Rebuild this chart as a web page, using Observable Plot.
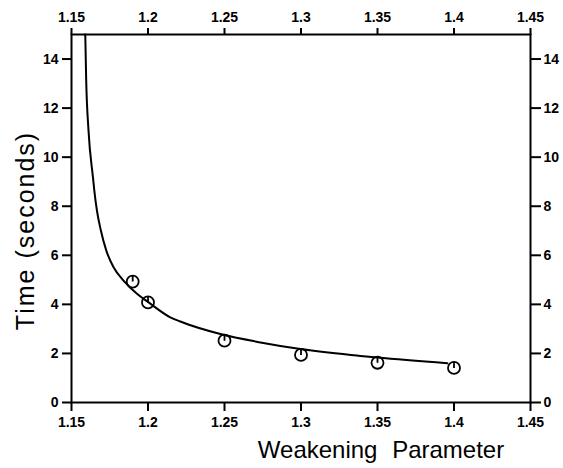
<!DOCTYPE html>
<html>
<head>
<meta charset="utf-8">
<script src="https://cdn.jsdelivr.net/npm/d3@7"></script>
<script src="https://cdn.jsdelivr.net/npm/@observablehq/plot@0.6"></script>
<style>
  html, body { margin: 0; padding: 0; background: white; }
</style>
</head>
<body>
<div id="chart"></div>
<script>
// Measured data points (weakening parameter vs time in seconds)
const pointX = [1.19, 1.2, 1.25, 1.3, 1.35, 1.4];
const pointY = [4.93, 4.08, 2.52, 1.94, 1.62, 1.41];

// Fitted curve
const curveX = [1.159, 1.1596, 1.1611, 1.164, 1.1649, 1.1666, 1.1692, 1.1727, 1.1775, 1.184, 1.1928, 1.2004, 1.2146, 1.2211, 1.2473, 1.2735, 1.2997, 1.3389, 1.35, 1.3957];
const curveY = [15, 13.15, 11.1, 9.19, 8.65, 7.83, 7.01, 6.2, 5.51, 4.97, 4.43, 4.08, 3.47, 3.30, 2.79, 2.45, 2.18, 1.90, 1.83, 1.60];

const xTicks = [1.15, 1.2, 1.25, 1.3, 1.35, 1.4, 1.45];
const yTicks = [0, 2, 4, 6, 8, 10, 12, 14];
const xTitle = "Weakening Parameter";
const yTitle = "Time (seconds)";

const points = pointX.map((x, i) => ({x, y: pointY[i]}));
const curve = curveX.map((x, i) => ({x, y: curveY[i]}));

const fmt = d => String(+d.toFixed(2));

// circle with a short stroke inside (as in the scanned figure)
const clockSymbol = {
  draw(context, size) {
    const r = Math.sqrt(size / Math.PI);
    context.moveTo(r, 0);
    context.arc(0, 0, r, 0, 2 * Math.PI);
    context.moveTo(0, -r);
    context.lineTo(0, 0);
  }
};

const axisCommon = {tickFormat: fmt, label: null, strokeWidth: 2};

const chart = Plot.plot({
  width: 563,
  height: 468,
  marginLeft: 71,
  marginRight: 33,
  marginTop: 34,
  marginBottom: 66,
  x: {domain: [1.15, 1.45]},
  y: {domain: [0, 15]},
  style: {
    fontFamily: "'Liberation Sans', Arial, Helvetica, sans-serif",
    fontSize: "14px",
    fontWeight: "bold",
    background: "white",
    color: "black"
  },
  marks: [
    Plot.axisX({anchor: "bottom", ticks: xTicks, tickSize: 9, tickPadding: 6, ...axisCommon}),
    Plot.axisX({anchor: "top", ticks: xTicks, tickSize: 7, tickPadding: 6, ...axisCommon}),
    Plot.axisY({anchor: "left", ticks: yTicks, tickSize: 9, tickPadding: 4, ...axisCommon}),
    Plot.axisY({anchor: "right", ticks: yTicks, tickSize: 10, tickPadding: 3, ...axisCommon}),
    Plot.frame({stroke: "black", strokeWidth: 2}),
    Plot.line(curve, {x: "x", y: "y", curve: "monotone-x", stroke: "black", strokeWidth: 2}),
    Plot.dot(points, {x: "x", y: "y", r: 6, symbol: clockSymbol, stroke: "black", strokeWidth: 1.8, fill: "none"}),
    Plot.text([xTitle], {frameAnchor: "bottom", textAnchor: "middle", lineAnchor: "middle", dx: 80, dy: 48, fontSize: 24, fontWeight: "normal", fill: "black", text: d => d}),
    Plot.text([yTitle], {frameAnchor: "left", textAnchor: "middle", lineAnchor: "middle", rotate: -90, dx: -46, dy: 12, fontSize: 25, fontWeight: "normal", fill: "black", text: d => d})
  ]
});

// spacing of the titles as in the scanned figure
d3.select(chart).selectAll("text").each(function () {
  const t = d3.select(this).text();
  if (t === xTitle) d3.select(this).style("word-spacing", "8px");
  if (t === yTitle) d3.select(this).style("letter-spacing", "2px");
});

document.getElementById("chart").appendChild(chart);
</script>
</body>
</html>
